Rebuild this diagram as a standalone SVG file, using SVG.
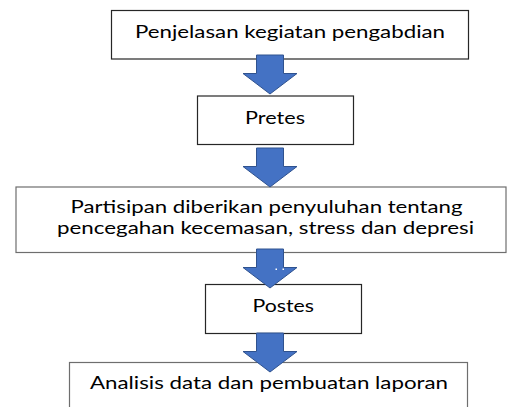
<svg xmlns="http://www.w3.org/2000/svg" width="507" height="407" viewBox="0 0 507 407">
<defs>
<style>
.box{fill:#ffffff;stroke:#262626;stroke-width:1.2}
.boxg{fill:#ffffff;stroke:#6e6e6e;stroke-width:1.2}
.lbl{font-family:Lato,"Open Sans","Liberation Sans",sans-serif;font-size:17.5px;fill:#000000}
.sm{font-size:17px}
.arrow{fill:#4472C4;stroke:#2F528F;stroke-width:1}
</style>
<path id="arr" d="M256.5,0 H283.5 V18.5 H297 L270,39 L243,18.5 H256.5 Z"/>
</defs>
<rect x="0" y="0" width="507" height="407" fill="#ffffff"/>
<g id="node1">
<rect class="box" x="111.5" y="10.5" width="357" height="48.5"/>
<text class="lbl" x="135" y="38" textLength="310" lengthAdjust="spacingAndGlyphs">Penjelasan kegiatan pengabdian</text>
</g>
<g id="node2">
<rect class="box" x="197.5" y="96" width="156" height="48.5"/>
<text class="lbl" x="245" y="124" textLength="60" lengthAdjust="spacingAndGlyphs">Pretes</text>
</g>
<g id="node3">
<rect class="boxg" x="16" y="187" width="490" height="65.5"/>
<text class="lbl sm" x="70.5" y="213" textLength="392" lengthAdjust="spacingAndGlyphs">Partisipan diberikan penyuluhan tentang</text>
<text class="lbl sm" x="57" y="233.5" textLength="417" lengthAdjust="spacingAndGlyphs">pencegahan kecemasan, stress dan depresi</text>
</g>
<g id="node4">
<rect class="box" x="205.5" y="284.5" width="156" height="49"/>
<text class="lbl" x="252.5" y="312" textLength="61.5" lengthAdjust="spacingAndGlyphs">Postes</text>
</g>
<g id="node5">
<rect class="boxg" x="69.5" y="362.5" width="398" height="60"/>
<text class="lbl" x="90" y="389" textLength="358" lengthAdjust="spacingAndGlyphs">Analisis data dan pembuatan laporan</text>
</g>
<g id="connectors">
<use href="#arr" class="arrow" transform="translate(0,55)"/>
<use href="#arr" class="arrow" transform="translate(0,148)"/>
<use href="#arr" class="arrow" transform="translate(0,249)"/>
<rect x="275.5" y="268.5" width="1.5" height="1.5" fill="#ffffff"/>
<rect x="282.5" y="268.5" width="1.5" height="1.5" fill="#ffffff"/>
<use href="#arr" class="arrow" transform="translate(0,333)"/>
</g>
</svg>
